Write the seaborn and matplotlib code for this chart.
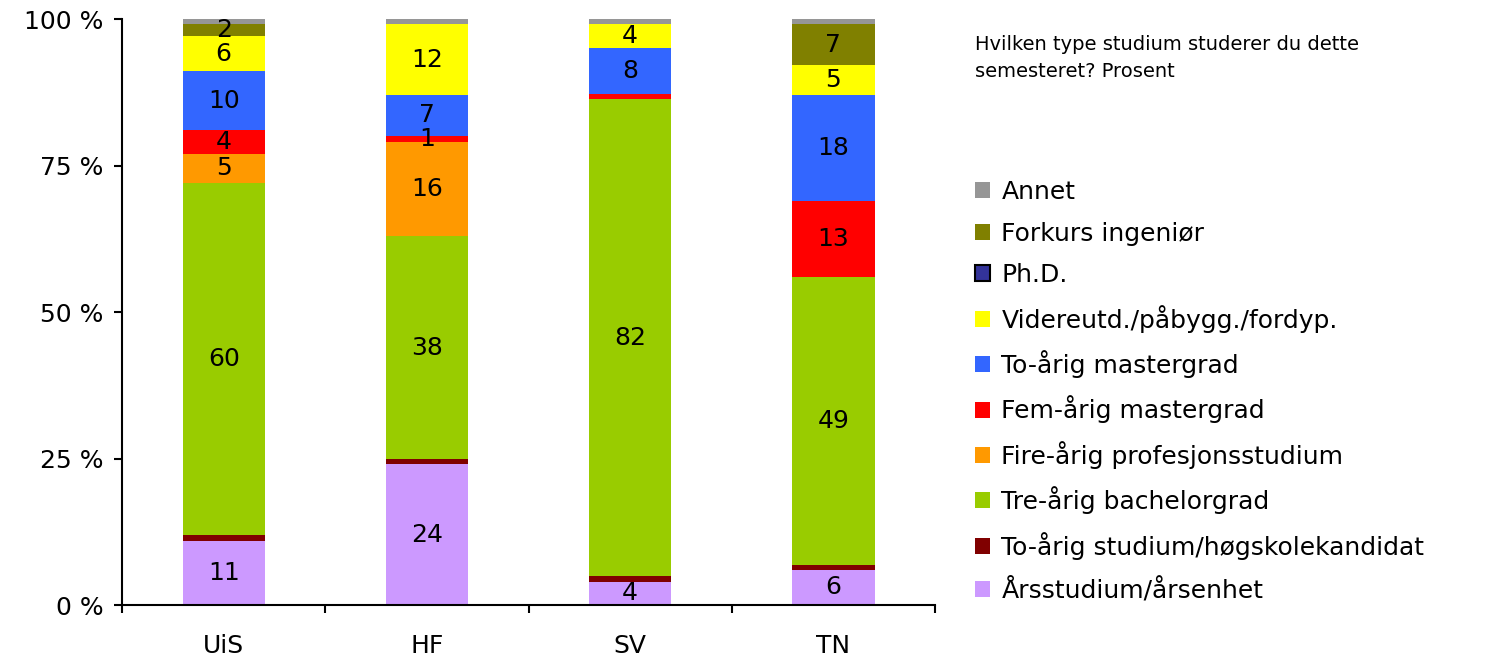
import numpy as np
import pandas as pd
import seaborn as sns
from matplotlib import pyplot as plt
from matplotlib.patches import Patch

# ---- data ----
fakultet = ['UiS', 'HF', 'SV', 'TN']

studietyper = ['Årsstudium/årsenhet', 'To-årig studium/høgskolekandidat',
               'Tre-årig bachelorgrad', 'Fire-årig profesjonsstudium',
               'Fem-årig mastergrad', 'To-årig mastergrad',
               'Videreutd./påbygg./fordyp.', 'Ph.D.', 'Forkurs ingeniør', 'Annet']

farger = ['#CC99FF', '#800000', '#99CC00', '#FF9900', '#FF0000',
          '#3366FF', '#FFFF00', '#333399', '#808000', '#969696']

aarsstudium = [11, 24, 4, 6]
toaarig_studium = [0.9, 0.9, 0.95, 0.9]
bachelor = [60, 38, 81.6, 49]
profesjon = [5, 16, 0, 0]
femaarig_master = [4, 1.1, 0.8, 13]
toaarig_master = [10, 7, 8, 18]
videreutd = [6, 12, 4, 5]
phd = [0, 0, 0, 0]
forkurs = [2, 0, 0, 7]
annet = [0.9, 0.9, 0.9, 0.9]

serier = [aarsstudium, toaarig_studium, bachelor, profesjon, femaarig_master,
          toaarig_master, videreutd, phd, forkurs, annet]

df = pd.DataFrame(np.array(serier).T, index=fakultet, columns=studietyper)
df = df.div(df.sum(axis=1), axis=0) * 100  # 100 % stablet
topp = df.cumsum(axis=1)
bunn = topp - df

sns.set_style('white')
plt.rcParams['font.family'] = ['DejaVu Sans']
plt.rcParams['text.color'] = 'black'
plt.rcParams['xtick.color'] = 'black'
plt.rcParams['ytick.color'] = 'black'

fig = plt.figure(figsize=(15.08, 6.57), dpi=100)
ax = fig.add_axes([0.081, 0.079, 0.539, 0.892])

# draw cumulative bars from the top down so each shorter one covers the rest
for i in reversed(range(len(studietyper))):
    navn = studietyper[i]
    sns.barplot(x=fakultet, y=topp[navn].values, color=farger[i], width=0.405,
                saturation=1, linewidth=0, ax=ax)

# value labels
for i, navn in enumerate(studietyper):
    for j, f in enumerate(fakultet):
        v = serier[i][j]
        if v >= 1:
            ymid = bunn.loc[f, navn] + df.loc[f, navn] / 2
            ax.text(j, ymid, f'{v:.0f}', ha='center', va='center', fontsize=18)

ax.set_xlim(-0.5, 3.5)
ax.set_ylim(0, 100)
ax.set_yticks([0, 25, 50, 75, 100])
ax.set_yticklabels(['0 %', '25 %', '50 %', '75 %', '100 %'], fontsize=18)
ax.set_xticks(range(4))
ax.set_xticklabels(fakultet, fontsize=18)
ax.set_xticks([-0.5, 0.5, 1.5, 2.5, 3.5], minor=True)
ax.tick_params(axis='x', which='major', length=0, pad=21)
ax.tick_params(axis='x', which='minor', length=6, width=1.5, direction='out', bottom=True)
ax.tick_params(axis='y', length=5.5, width=1.5, direction='out', left=True, pad=8)
sns.despine(ax=ax)
for s in ['left', 'bottom']:
    ax.spines[s].set_linewidth(1.5)
    ax.spines[s].set_color('black')

# legend (reversed order, Ph.D. with black border)
handles = []
for i in reversed(range(len(studietyper))):
    kant = 'black' if studietyper[i] == 'Ph.D.' else 'none'
    handles.append(Patch(facecolor=farger[i], edgecolor=kant, linewidth=1.5,
                         label=studietyper[i]))
fig.legend(handles=handles, loc='upper left', bbox_to_anchor=(0.640, 0.741),
           frameon=False, fontsize=18, handlelength=0.6, handleheight=0.6,
           handletextpad=0.45, labelspacing=0.70, borderaxespad=0)

fig.text(0.6465, 0.946, 'Hvilken type studium studerer du dette\nsemesteret? Prosent',
         ha='left', va='top', fontsize=14, linespacing=1.5)

fig.savefig('out.png', dpi=100)
